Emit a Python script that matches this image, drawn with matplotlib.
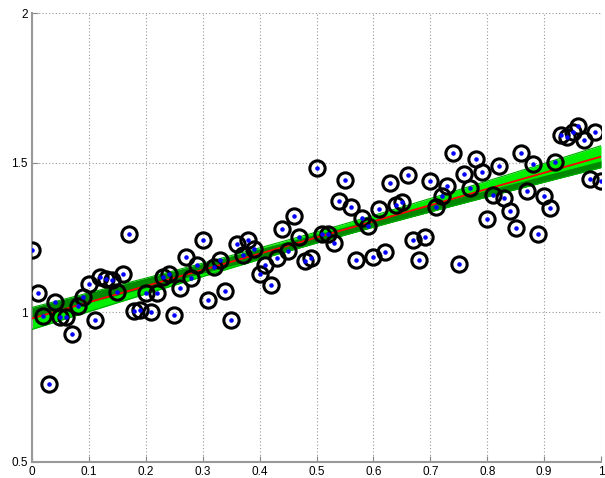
# Linear fit with confidence band

import numpy as np
import matplotlib.pyplot as plt

x_values = np.linspace(0, 1, 101)
y_values = np.array([
    1.209, 1.066, 0.988, 0.759, 1.034, 0.984, 0.984, 0.926, 1.020, 1.052,
    1.096, 0.973, 1.118, 1.112, 1.109, 1.068, 1.129, 1.262, 1.003, 1.007,
    1.064, 1.001, 1.064, 1.118, 1.127, 0.990, 1.081, 1.184, 1.116, 1.159,
    1.242, 1.040, 1.153, 1.175, 1.071, 0.973, 1.227, 1.190, 1.240, 1.213,
    1.129, 1.159, 1.090, 1.182, 1.277, 1.204, 1.323, 1.251, 1.173, 1.182,
    1.482, 1.262, 1.262, 1.231, 1.373, 1.443, 1.351, 1.176, 1.316, 1.287,
    1.184, 1.346, 1.201, 1.432, 1.357, 1.368, 1.459, 1.242, 1.176, 1.251,
    1.438, 1.351, 1.388, 1.423, 1.531, 1.160, 1.462, 1.416, 1.512, 1.470,
    1.312, 1.392, 1.488, 1.381, 1.340, 1.282, 1.532, 1.404, 1.496, 1.262,
    1.388, 1.348, 1.501, 1.593, 1.587, 1.601, 1.621, 1.576, 1.446, 1.604,
    1.440,
])

# true model the data came from
true_intercept = 1.0
true_slope = 0.49
true_halfwidth = 0.016

# least squares fit and 95% confidence band
n = len(x_values)
slope, intercept = np.polyfit(x_values, y_values, 1)
xs = np.linspace(0, 1, 200)
fit = intercept + slope * xs
resid = y_values - (intercept + slope * x_values)
s = np.sqrt(np.sum(resid ** 2) / (n - 2))
sxx = np.sum((x_values - x_values.mean()) ** 2)
se = s * np.sqrt(1 / n + (xs - x_values.mean()) ** 2 / sxx)
lower = fit - 1.984 * se
upper = fit + 1.984 * se

true_line = true_intercept + true_slope * xs
tl = np.maximum(true_line - true_halfwidth, lower)
tu = np.minimum(true_line + true_halfwidth, upper)

plt.rcParams['font.family'] = ['Liberation Sans', 'DejaVu Sans']
fig = plt.figure(figsize=(6.05, 4.78), dpi=100)
ax = fig.add_axes([0.0529, 0.0335, 0.9405, 0.9393])

ax.fill_between(xs, lower, upper, color="#00ee00", lw=0, zorder=2)
ax.fill_between(xs, tl, tu, color="#008800", lw=0, zorder=3)
ax.plot(xs, upper, color="#00aa00", lw=0.8, zorder=3)
ax.plot(xs, lower, color="#00aa00", lw=0.8, zorder=3)
ax.plot(xs, fit, color="red", lw=1.3, zorder=4)

ax.plot(x_values, y_values, "o", ms=11, mfc="none", mec="black", mew=2.2, zorder=5)
ax.plot(x_values, y_values, ".", ms=4.5, color="blue", zorder=6)

ax.set_xlim(0, 1)
ax.set_ylim(0.5, 2)
ax.set_xticks(np.arange(0, 1.01, 0.1))
ax.set_xticklabels(["0", "0.1", "0.2", "0.3", "0.4", "0.5", "0.6", "0.7", "0.8", "0.9", "1"])
ax.set_yticks([0.5, 1, 1.5, 2])
ax.set_yticklabels(["0.5", "1", "1.5", "2"])
ax.tick_params(direction="in", length=4, labelsize=8.5, color="#888888", pad=3)
ax.grid(True, linestyle=(0, (1, 2)), color="#999999", lw=0.8)
ax.set_axisbelow(True)
for side in ["top", "right"]:
    ax.spines[side].set_visible(False)
for side in ["left", "bottom"]:
    ax.spines[side].set_color("#999999")
    ax.spines[side].set_linewidth(1.5)

fig.savefig("out.png", dpi=100)
